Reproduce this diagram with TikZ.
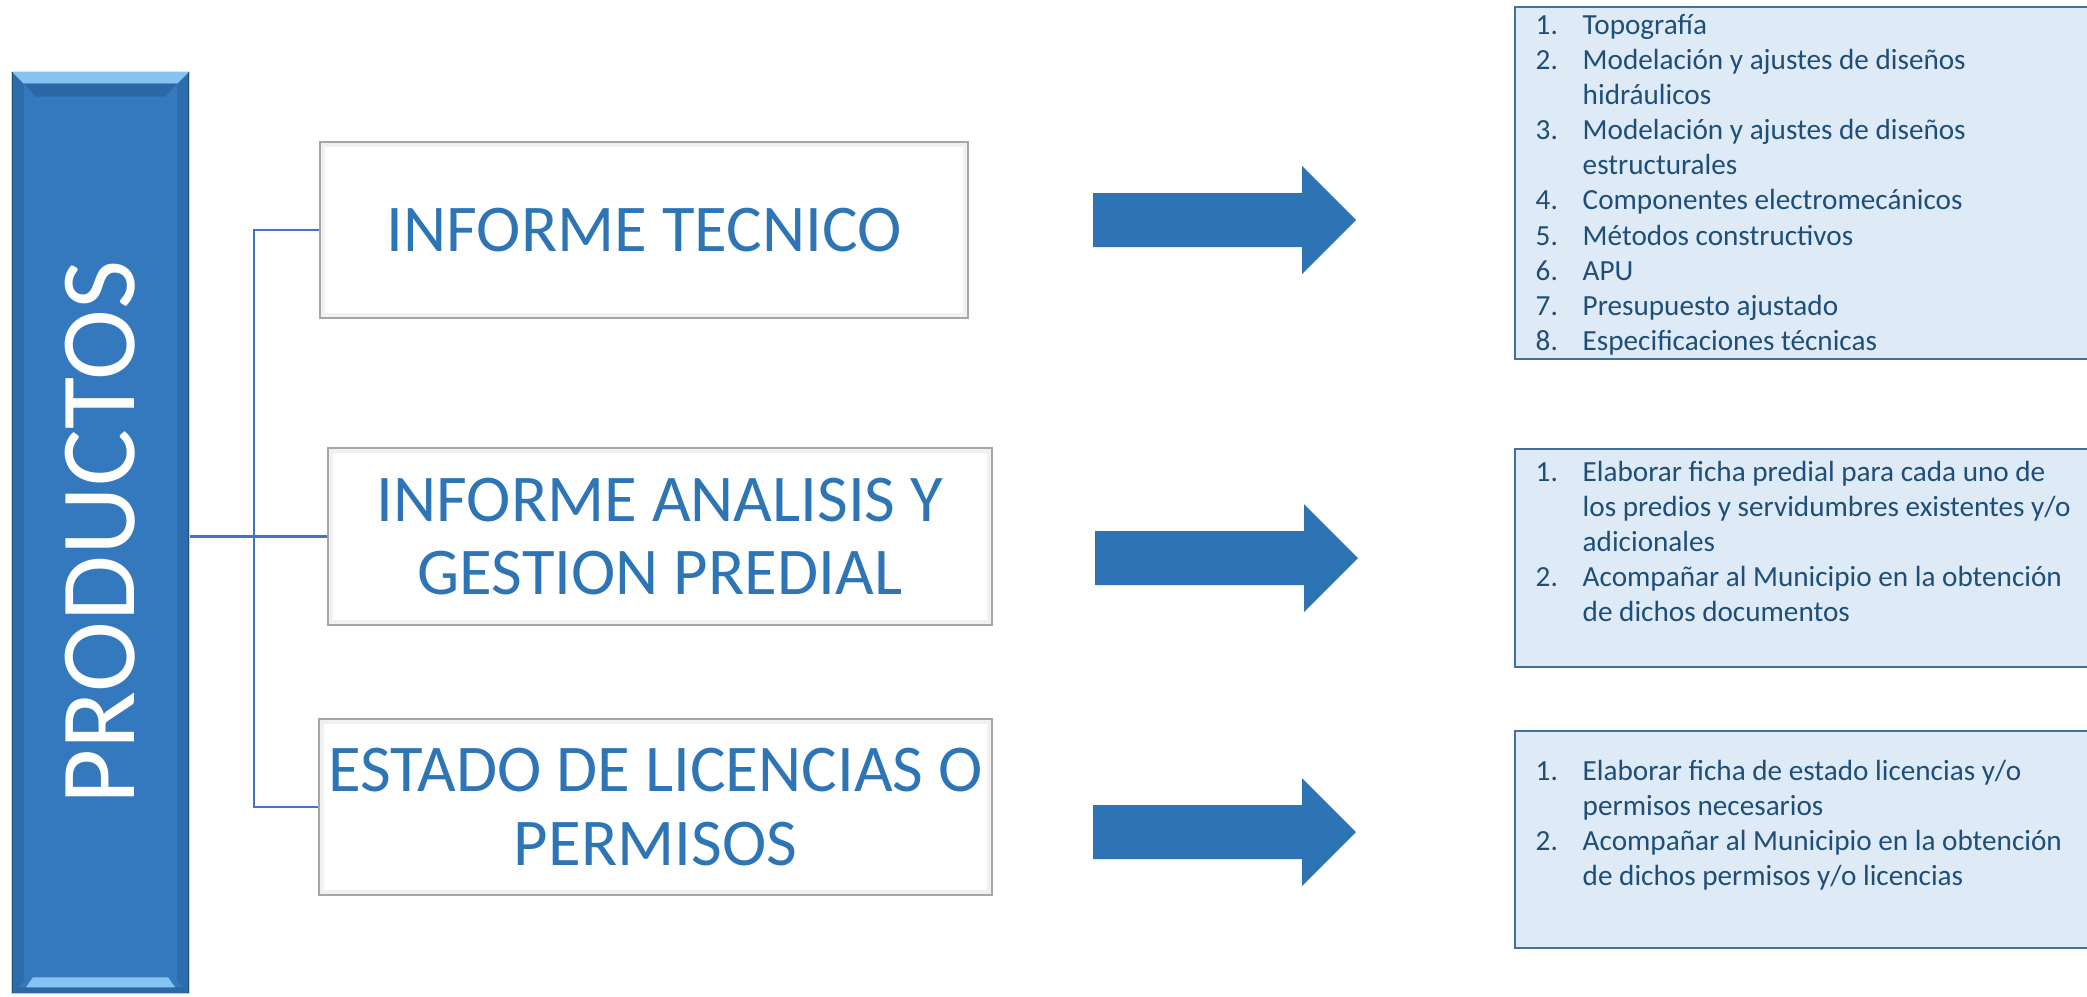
\documentclass[tikz,border=0pt]{standalone}
\usepackage{fontspec}
\setmainfont{Carlito}
\usepackage{graphicx}
\usetikzlibrary{calc}
\definecolor{barblue}{HTML}{3479BD}
\definecolor{barlight}{HTML}{86C3F2}
\definecolor{bardark}{HTML}{2C68A6}
\definecolor{baredge}{HTML}{1F4E79}
\definecolor{arrowblue}{HTML}{2E74B5}
\definecolor{linkblue}{HTML}{4472C4}
\definecolor{titleblue}{HTML}{2E75B6}
\definecolor{listfill}{HTML}{DEEBF7}
\definecolor{listdraw}{HTML}{41719C}
\definecolor{listtext}{HTML}{1F4E79}
\def\blockarrow(#1,#2){\fill[arrowblue] (#1,#2) ++(0,-27) -- ++(209,0) -- ++(0,-27) -- ++(54,54) -- ++(-54,54) -- ++(0,-27) -- ++(-209,0) -- cycle;}
\tikzset{
	report/.style={draw=gray!70, line width=0.6pt, fill=white, text=titleblue,
		font=\fontsize{19}{20.8}\selectfont, align=center, inner sep=0pt,
		path picture={\draw[gray!12, line width=0.1cm] (path picture bounding box.north west) rectangle (path picture bounding box.south east);}},
	link/.style={draw=linkblue, line width=0.6pt},
	listbox/.style={draw=listdraw, line width=0.7pt, fill=listfill},
	listtxt/.style={text=listtext, anchor=base west, inner sep=0pt, font=\fontsize{8.3}{10}\selectfont},
}

\begin{document}
\begin{tikzpicture}[x=0.01cm, y=-0.01cm]
		%%%%% START %%%%%
		
		\useasboundingbox (0,0) rectangle (2087,996);
		\fill[white] (0,0) rectangle (2087,996);
		\clip (0,0) rectangle (2087,996);
		
		% left bar
		\node[fill=barblue, minimum width=1.77cm, minimum height=9.21cm, inner sep=0pt, text=white,
			font=\fontsize{30.4}{32}\selectfont,
			path picture={
				\fill[bardark!70!barblue] (path picture bounding box.north west) -- ([shift={(12,12)}]path picture bounding box.north west) -- ([shift={(12,-12)}]path picture bounding box.south west) -- (path picture bounding box.south west) -- cycle;
				\fill[bardark!70!barblue] (path picture bounding box.north east) -- ([shift={(-12,12)}]path picture bounding box.north east) -- ([shift={(-12,-12)}]path picture bounding box.south east) -- (path picture bounding box.south east) -- cycle;
				\fill[barlight] (path picture bounding box.north west) -- (path picture bounding box.north east) -- ([shift={(-12,12)}]path picture bounding box.north east) -- ([shift={(12,12)}]path picture bounding box.north west) -- cycle;
				\fill[bardark] ([shift={(12,12)}]path picture bounding box.north west) -- ([shift={(-12,12)}]path picture bounding box.north east) -- ([shift={(-24,25)}]path picture bounding box.north east) -- ([shift={(24,25)}]path picture bounding box.north west) -- cycle;
				\fill[bardark] (path picture bounding box.south west) -- (path picture bounding box.south east) -- ([shift={(-6,-6)}]path picture bounding box.south east) -- ([shift={(6,-6)}]path picture bounding box.south west) -- cycle;
				\fill[barlight] ([shift={(14,-6)}]path picture bounding box.south west) -- ([shift={(-14,-6)}]path picture bounding box.south east) -- ([shift={(-21,-16)}]path picture bounding box.south east) -- ([shift={(21,-16)}]path picture bounding box.south west) -- cycle;
				\draw[baredge, line width=0.8pt] (path picture bounding box.north west) -- (path picture bounding box.south west);
				\draw[baredge, line width=0.8pt] (path picture bounding box.north east) -- (path picture bounding box.south east);
			}] (bar) at (100.5,532.5) {\rotatebox{90}{PRODUCTOS}};
		
		% report boxes
		\node[report, minimum width=6.48cm, minimum height=1.76cm] (tecnico) at (644,230) {INFORME TECNICO};
		\node[report, minimum width=6.64cm, minimum height=1.77cm] (predial) at (660,536.5) {INFORME ANALISIS Y\\GESTION PREDIAL};
		\node[report, minimum width=6.73cm, minimum height=1.76cm] (licencias) at (655.5,807) {ESTADO DE LICENCIAS O\\PERMISOS};
		
		% connectors
		\coordinate (bus) at (254,536);
		\draw[link] (tecnico.west) -| (bus) |- (licencias.west);
		\draw[link, line width=0.9pt] (bar.east |- predial.west) -- (predial.west);
		
		% arrows
		\blockarrow(1093,220);
		\blockarrow(1095,558);
		\blockarrow(1093,832);
		
		% lists
		\draw[listbox] (1515,7) rectangle (2110,359);
		\node[listtxt] (listA) at (1535,34) {\begin{tabular}[t]{@{}p{0.47cm}@{}l@{}}
			1. & Topografía\\
			2. & Modelación y ajustes de diseños\\
			   & hidráulicos\\
			3. & Modelación y ajustes de diseños\\
			   & estructurales\\
			4. & Componentes electromecánicos\\
			5. & Métodos constructivos\\
			6. & APU\\
			7. & Presupuesto ajustado\\
			8. & Especificaciones técnicas
		\end{tabular}};
		
		\draw[listbox] (1515,449) rectangle (2110,667);
		\node[listtxt] (listB) at (1535,481) {\begin{tabular}[t]{@{}p{0.47cm}@{}l@{}}
			1. & Elaborar ficha predial para cada uno de\\
			   & los predios y servidumbres existentes y/o\\
			   & adicionales\\
			2. & Acompañar al Municipio en la obtención\\
			   & de dichos documentos
		\end{tabular}};
		
		\draw[listbox] (1515,731) rectangle (2110,948);
		\node[listtxt] (listC) at (1535,780) {\begin{tabular}[t]{@{}p{0.47cm}@{}l@{}}
			1. & Elaborar ficha de estado licencias y/o\\
			   & permisos necesarios\\
			2. & Acompañar al Municipio en la obtención\\
			   & de dichos permisos y/o licencias
		\end{tabular}};
		
		%%%%% END %%%%%
\end{tikzpicture}
\end{document}
